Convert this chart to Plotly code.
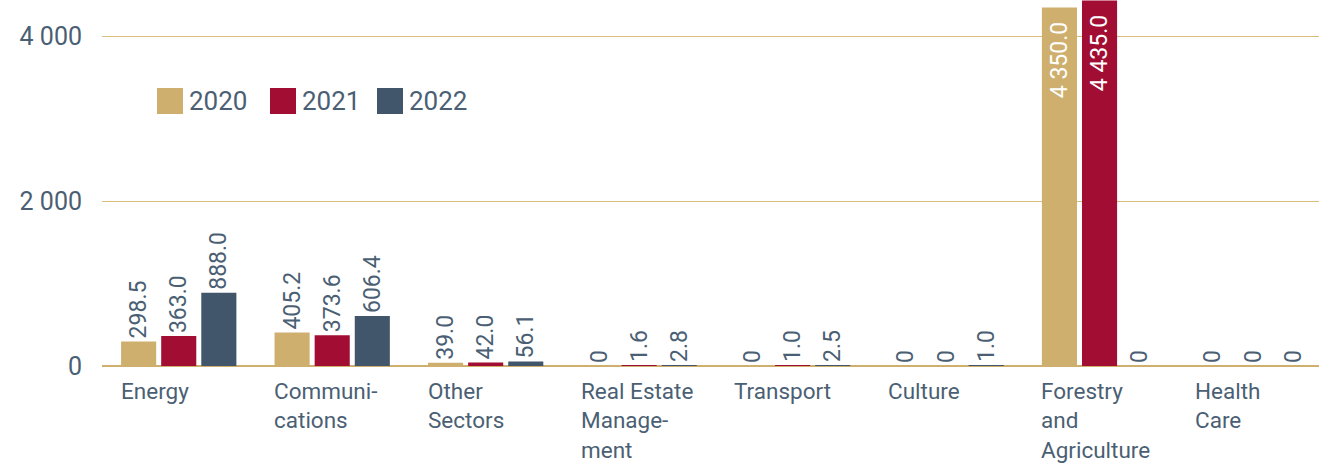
import plotly.graph_objects as go

categories = ["Energy", "Communications", "Other Sectors", "Real Estate Management",
              "Transport", "Culture", "Forestry and Agriculture", "Health Care"]
category_labels = ["Energy", "Communi-<br>cations", "Other<br>Sectors", "Real Estate<br>Manage-<br>ment",
                   "Transport", "Culture", "Forestry<br>and<br>Agriculture", "Health<br>Care"]
years = ["2020", "2021", "2022"]
values_2020 = [298.5, 405.2, 39.0, 0, 0, 0, 4350.0, 0]
values_2021 = [363.0, 373.6, 42.0, 1.6, 1.0, 0, 4435.0, 0]
values_2022 = [888.0, 606.4, 56.1, 2.8, 2.5, 1.0, 0, 0]
colors = ["#CFAF6E", "#A20E33", "#41566B"]
y_ticks = [0, 2000, 4000]

TEXT = "#4B5F74"
FONT = "Roboto"
W, H = 1319, 463
ML, MR, MT, MB = 102, 0, 0, 97
BARGAP = 0.216
INSIDE_LIMIT = 4000
PAD = "\u00a0\u00a0"


def fmt(v):
    if v == 0:
        return "0"
    s = f"{v:,.1f}"
    return s.replace(",", " ")


fig = go.Figure()
series = [values_2020, values_2021, values_2022]
x_idx = list(range(len(categories)))
for name, vals, col in zip(years, series, colors):
    fig.add_trace(go.Bar(
        x=x_idx, y=vals, name=name, marker=dict(color=col, line=dict(width=0)),
        text=[fmt(v) + PAD if v > INSIDE_LIMIT else fmt(v) for v in vals],
        textposition=["inside" if v > INSIDE_LIMIT else "outside" for v in vals],
        insidetextanchor="end",
        textangle=-90,
        constraintext="none",
        outsidetextfont=dict(family=FONT, size=23, color=TEXT),
        insidetextfont=dict(family=FONT, size=23, color="#FFFFFF"),
        showlegend=False,
        hoverinfo="skip",
    ))

pw = W - ML - MR
ph = H - MT - MB


def px_x(p):
    return (p - ML) / pw


def px_y(p):
    return 1 - (p - MT) / ph


shapes = []
annotations = []
# legend
legend_x = [157, 270, 377]
for name, col, lx in zip(years, colors, legend_x):
    shapes.append(dict(type="rect", xref="paper", yref="paper",
                       x0=px_x(lx), x1=px_x(lx + 26), y0=px_y(114), y1=px_y(88),
                       fillcolor=col, line=dict(width=0)))
    annotations.append(dict(xref="paper", yref="paper", x=px_x(lx + 30), y=px_y(101),
                            text=name, showarrow=False, xanchor="left", yanchor="middle",
                            font=dict(family=FONT, size=26, color=TEXT)))

# category labels, left aligned with the first bar of each group
for i, lab in enumerate(category_labels):
    annotations.append(dict(xref="x", yref="y", x=i - (1 - BARGAP) / 2, y=0, yshift=-10,
                            text=lab, showarrow=False, xanchor="left", yanchor="top",
                            align="left", font=dict(family=FONT, size=22.5, color=TEXT)))

fig.update_layout(
    width=W, height=H,
    margin=dict(l=ML, r=MR, t=MT, b=MB, autoexpand=False),
    paper_bgcolor="white", plot_bgcolor="white",
    barmode="group", bargap=BARGAP, bargroupgap=0.125,
    separators=". ",
    shapes=shapes, annotations=annotations,
    font=dict(family=FONT, color=TEXT),
    xaxis=dict(range=[-0.5, 7.43], showticklabels=False, showgrid=False,
               zeroline=False, showline=False, ticks="", automargin=False),
    yaxis=dict(range=[0, 4440], tickvals=y_ticks,
               ticktext=[fmt(v).replace(".0", "") for v in y_ticks],
               tickfont=dict(family=FONT, size=25, color=TEXT),
               ticklabelstandoff=19, automargin=False,
               showgrid=True, gridcolor="#D9BD7E", gridwidth=1,
               zeroline=True, zerolinecolor="#CFAF6E", zerolinewidth=2,
               showline=False, ticks=""),
)

fig.write_html("out.html", config={"displayModeBar": False},
               post_script="document.body.style.margin='0';document.body.style.overflow='hidden';")
